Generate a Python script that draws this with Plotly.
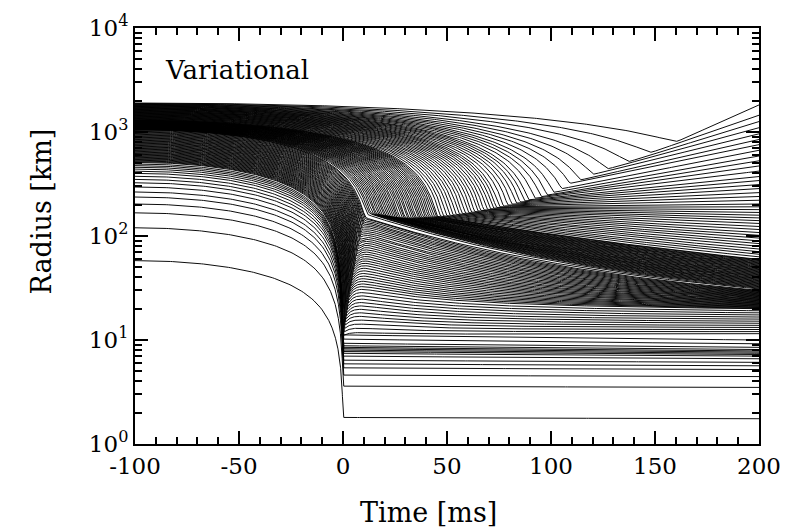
import numpy as np
import plotly.graph_objects as go

# ---- data -----------------------------------------------------------------
# Shock front radius vs. time after bounce
shock_t = [0, 1, 2, 3, 4, 5, 6, 7, 8, 9, 10, 11, 12, 14, 17, 20, 25, 30, 40, 50,
           60, 70, 80, 90, 98, 106, 109, 114, 120, 127, 137, 147.6, 160, 175, 200]
shock_r = [10, 14, 19, 26, 34, 45, 58, 75, 95, 120, 145, 160, 166, 165, 162, 158, 152, 150, 152, 158,
           168, 182, 200, 225, 247, 290, 320, 345, 390, 440, 515, 630, 800, 1100, 1900]

# Inner-core shells: radius at -100 ms, radius right after bounce, radius at 200 ms
core_r0 = [58, 120, 167, 203, 237, 265, 296, 325, 350, 375, 400, 420, 440, 458, 475, 492]
core_rc = [1.8, 3.6, 4.6, 5.4, 5.9, 6.4, 7.0, 7.45, 7.75, 8.0, 8.25, 8.5, 8.8, 9.3, 10.2, 11.2]
core_r200 = [1.75, 3.5, 4.45, 5.2, 5.65, 6.1, 6.6, 7.0, 7.25, 7.45, 7.65, 7.85, 8.1, 8.5, 9.2, 10.0]

# Shells shocked during shock formation (0-10 ms): count, initial radii, shock times, final radii
early_n = 45
early_r0 = (510, 1050)
early_th = (0.3, 10.0)
early_r200_idx = [0, 12, 44]
early_r200 = [11.5, 20, 30]

# Shells accreted through the stalled shock (10-45 ms)
stall_n = 40
stall_r0 = (1050, 1300)
stall_th = (10.4, 44.2)
stall_r200 = (31, 59)

# Outer shells swept up by the reviving shock: shock times, final radius vs. shock time
outer_th = [45, 46.5, 48, 49.5, 51, 52.5, 54, 55.5, 57, 58.5, 60, 61.5, 63, 64.5, 66, 67.5,
            69, 70.5, 72, 73.5, 75, 77, 79, 81, 83, 85, 87, 89, 92, 95, 98, 101, 105,
            109, 114, 120, 127, 137, 147.6, 160]
outer_r0 = (1300, 1900)
end_t = [45, 50, 55, 60, 65, 70, 80, 90, 100, 110, 120, 127, 137, 147.6, 160]
end_r = [59.6, 72, 88, 108, 135, 165, 250, 390, 570, 780, 960, 1100, 1260, 1450, 1820]

# Curvature of the post-shock branch vs. shock time (0 = straight in log r)
shape_t = [0, 10, 45, 80]
shape_a = [2.0, 1.3, 0.5, 0.0]

x_ticks = [-100, -50, 0, 50, 100, 150, 200]
y_ticks = [1, 10, 100, 1000, 10000]

# ---- build shell list -------------------------------------------------------
def shock_radius(th):
    return 10 ** np.interp(th, shock_t, np.log10(shock_r))

shells = []  # (r0, t_hit, r_hit, r200, shape, sharpness)
for r0, rc, re in zip(core_r0, core_rc, core_r200):
    shells.append((r0, 0.0, rc, re, 0.5, 30.0))

idx = np.arange(early_n)
r0s = np.geomspace(*early_r0, early_n)
ths = np.linspace(*early_th, early_n)
r2s = 10 ** np.interp(idx, early_r200_idx, np.log10(early_r200))
for r0, th, re in zip(r0s, ths, r2s):
    shells.append((r0, th, shock_radius(th), re, np.interp(th, shape_t, shape_a), 10.0))

r0s = np.geomspace(*stall_r0, stall_n + 1)[1:]
ths = np.linspace(*stall_th, stall_n)
r2s = np.geomspace(*stall_r200, stall_n)
for r0, th, re in zip(r0s, ths, r2s):
    shells.append((r0, th, shock_radius(th), re, np.interp(th, shape_t, shape_a), 15.0))

r0s = np.geomspace(*outer_r0, len(outer_th) + 1)[1:]
for r0, th in zip(r0s, outer_th):
    re = 10 ** np.interp(th, end_t, np.log10(end_r))
    shells.append((r0, th, shock_radius(th), re, np.interp(th, shape_t, shape_a), 50.0))

# ---- trajectories -----------------------------------------------------------
L_peak = np.log10(max(shock_r[:20]))
base = np.linspace(-100, 200, 301)
xs, ys = [], []
for r0, th, rh, re, a, k in shells:
    T = (th + 100) / np.sqrt(1 - (rh / r0) ** 1.5)
    tt = np.unique(np.concatenate([base, np.arange(th - 8, th + 5, 0.04)]))
    tt = tt[(tt >= -100) & (tt <= 200)]
    q = (tt + 100) / T
    Lin = np.log10(r0) + (2 / 3) * np.log10(np.clip(1 - q ** 2, 1e-15, None))
    Lh, Le = np.log10(rh), np.log10(re)
    u = (tt - th) / (200 - th)
    if a > 1e-6:
        s = (1 - np.exp(-a * u)) / (1 - np.exp(-a))
        ds0 = a / (1 - np.exp(-a))
    else:
        s = u.copy()
        ds0 = 1.0
    # before the shock passes, the post-shock branch is only a short tangent
    pre = Lh + (Le - Lh) * ds0 * u
    Lpost = np.where(u < 0, np.minimum(pre, Lh + 0.08), Lh + (Le - Lh) * s)
    # shells hit while the shock is still young are pushed outward for a while
    if 0 < th < 10.2:
        dt = np.clip(tt - th, 0, None)
        amp = 0.35 * max(L_peak - Lh, 0) * (th / 10) ** 0.7
        Lpost = Lpost + amp * (1 - np.exp(-dt / 3.0)) * np.exp(-dt / 30.0)
    hi = np.maximum(Lin, Lpost)
    L = hi + np.log10(1 + 10 ** (-k * np.abs(Lin - Lpost))) / k
    xs.extend(tt.tolist() + [None])
    ys.extend((10 ** L).tolist() + [None])

fig = go.Figure()
fig.add_trace(go.Scatter(x=xs, y=ys, mode="lines",
                         line=dict(color="black", width=0.95),
                         hoverinfo="skip", showlegend=False))

font = "DejaVu Serif"
axis_common = dict(showline=True, linecolor="black", linewidth=2, mirror="ticks",
                   ticks="inside", ticklen=13, tickwidth=2, tickcolor="black",
                   showgrid=False, zeroline=False,
                   tickfont=dict(family=font, size=23, color="black"))

fig.update_xaxes(range=[-100, 200], tickvals=x_ticks, ticktext=[str(v) for v in x_ticks],
                 minor=dict(ticks="inside", ticklen=7, tickwidth=1.5, tickcolor="black",
                            dtick=10, tick0=0, showgrid=False),
                 **axis_common)
fig.update_yaxes(type="log", range=[0, 4], tickvals=y_ticks,
                 ticktext=["10<sup>%d</sup>" % int(np.log10(v)) for v in y_ticks],
                 minor=dict(ticks="inside", ticklen=7, tickwidth=1.5, tickcolor="black",
                            tickvals=[m * 10 ** e for e in range(4) for m in range(2, 10)],
                            showgrid=False),
                 **axis_common)

fig.add_annotation(x=0.045, y=0.9, xref="paper", yref="paper", text="Variational",
                   showarrow=False, xanchor="left", yanchor="middle",
                   font=dict(family=font, size=26, color="black"))
fig.add_annotation(x=0.47, y=-0.165, xref="paper", yref="paper", text="Time [ms]",
                   showarrow=False, xanchor="center", yanchor="middle",
                   font=dict(family=font, size=27, color="black"))
fig.add_annotation(x=-0.15, y=0.56, xref="paper", yref="paper", text="Radius [km]",
                   showarrow=False, xanchor="center", yanchor="middle", textangle=-90,
                   font=dict(family=font, size=27, color="black"))

fig.update_layout(width=808, height=529, margin=dict(l=135, r=49, t=28, b=85),
                  paper_bgcolor="white", plot_bgcolor="white",
                  font=dict(family=font, color="black"))
fig.write_html("out.html")
